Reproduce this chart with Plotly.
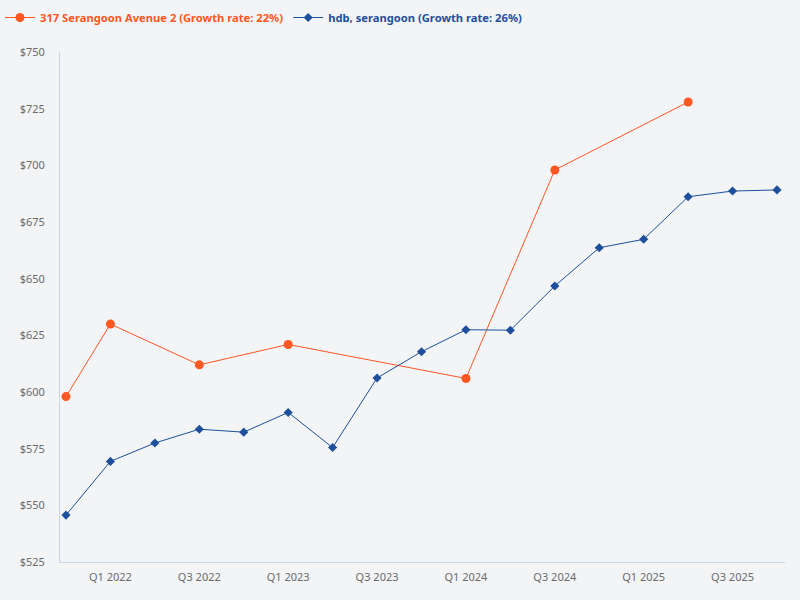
import plotly.graph_objects as go

quarters = ['Q4 2021', 'Q1 2022', 'Q2 2022', 'Q3 2022', 'Q4 2022', 'Q1 2023', 'Q2 2023',
            'Q3 2023', 'Q4 2023', 'Q1 2024', 'Q2 2024', 'Q3 2024', 'Q4 2024', 'Q1 2025',
            'Q2 2025', 'Q3 2025', 'Q4 2025']

street_quarters = ['Q4 2021', 'Q1 2022', 'Q3 2022', 'Q1 2023', 'Q1 2024', 'Q3 2024', 'Q2 2025']
street_prices = [598, 630, 612, 621, 606, 698, 728]

hdb_prices = [545.7, 569.4, 577.5, 583.6, 582.3, 591.0, 575.5, 606.2, 617.8, 627.5,
              627.3, 646.8, 663.7, 667.4, 686.2, 688.7, 689.2]

tick_labels = ['Q1 2022', 'Q3 2022', 'Q1 2023', 'Q3 2023', 'Q1 2024', 'Q3 2024', 'Q1 2025', 'Q3 2025']

idx = {q: i for i, q in enumerate(quarters)}
bg = '#f2f4f6'
orange = '#ff5722'
blue = '#1e4f9c'

fig = go.Figure()
fig.add_trace(go.Scatter(
    x=[idx[q] for q in street_quarters], y=street_prices,
    name=f'<span style="color:{orange}"><b>317 Serangoon Avenue 2 (Growth rate: 22%)</b></span>',
    mode='lines+markers', line=dict(color=orange, width=1),
    marker=dict(symbol='circle', size=9, color=orange)))
fig.add_trace(go.Scatter(
    x=list(range(len(quarters))), y=hdb_prices,
    name=f'<span style="color:{blue}"><b>hdb, serangoon (Growth rate: 26%)</b></span>',
    mode='lines+markers', line=dict(color=blue, width=1),
    marker=dict(symbol='diamond', size=7, color=blue)))

fig.update_layout(
    width=800, height=600,
    paper_bgcolor=bg, plot_bgcolor=bg,
    margin=dict(l=60, r=15, t=50, b=38),
    font=dict(family='Noto Sans', size=11, color='#6b6b6b'),
    showlegend=True,
    legend=dict(orientation='h', x=-0.025, y=0.995, xref='container', yref='container',
                xanchor='left', yanchor='top', font=dict(size=11.2),
                itemwidth=30, bgcolor='rgba(0,0,0,0)'),
)
fig.update_xaxes(
    range=[-0.135, 16.18], showgrid=False, zeroline=False,
    tickvals=[idx[t] for t in tick_labels], ticktext=tick_labels,
    showline=True, linecolor='#c5d5ea', linewidth=1, ticks='', ticklabelstandoff=5)
fig.update_yaxes(
    range=[525, 750], dtick=25, tickprefix='$', showgrid=False, zeroline=False,
    showline=True, linecolor='#c8d4e2', linewidth=1, ticks='', ticklabelstandoff=12)

# drop the page margin so the figure fills the window like the original
fig.write_html("out.html", config={'displayModeBar': False},
               post_script=f"document.body.style.margin='0';document.body.style.background='{bg}';")
